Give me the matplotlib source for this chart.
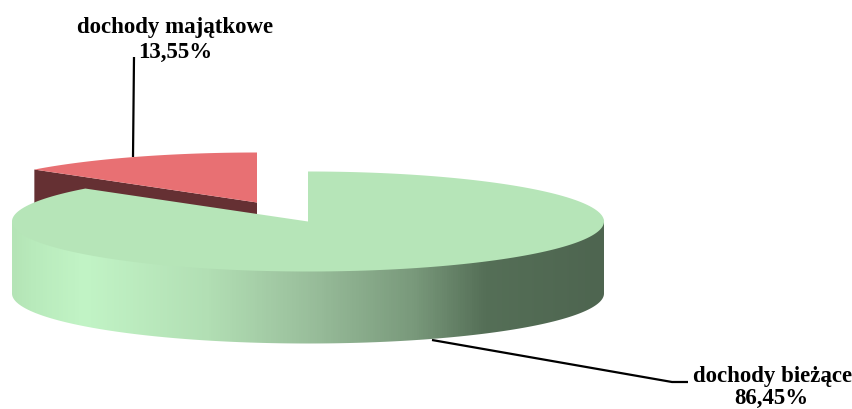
import numpy as np
import matplotlib
matplotlib.use('Agg')
import matplotlib.pyplot as plt
from matplotlib.colors import LinearSegmentedColormap
from matplotlib.patches import Polygon

# shares of the two slices
labels = ['dochody bieżące', 'dochody majątkowe']
values = [86.45, 13.55]
value_labels = ['86,45%', '13,55%']

W, H = 853, 410
CX, CY = 308, 222.5   # centre of the green slice top
RX, RY = 296, 50
DEPTH = 72
RED_SHIFT = (-51, -19)  # exploded slice offset


def arc(start, end, cx, cy, n=200):
    # angles clockwise from 12 o'clock, squashed into an ellipse
    t = np.deg2rad(np.linspace(start, end, n))
    return np.column_stack([cx + RX * np.sin(t), cy - RY * np.cos(t)])


fig = plt.figure(figsize=(W / 100, H / 100), dpi=100)
ax = fig.add_axes([0, 0, 1, 1])
ax.set_xlim(0, W)
ax.set_ylim(H, 0)
ax.axis('off')

split = 360 * values[0] / sum(values)

# red slice, pulled out
rx0, ry0 = CX + RED_SHIFT[0], CY + RED_SHIFT[1]
red_top = arc(split, 360, rx0, ry0)
edge = red_top[0]
wall = [edge, (rx0, ry0), (rx0, ry0 + DEPTH - 8), (edge[0], edge[1] + DEPTH - 8)]
ax.add_patch(Polygon(wall, closed=True, fc='#653033', ec='none', zorder=1))
ax.add_patch(Polygon(np.vstack([[(rx0, ry0)], red_top]), closed=True, fc='#E87073', ec='none', zorder=2))

# green outer wall with the shading running left to right
front_top = arc(90, 270, CX, CY - 3)
front_bottom = arc(90, 270, CX, CY + DEPTH)[::-1]
wall_poly = Polygon(np.vstack([front_top, front_bottom]), closed=True, fc='none', ec='none', zorder=3)
ax.add_patch(wall_poly)
stops = [(0.0, '#B4E4B6'), (0.03, '#B8EABB'), (0.12, '#C2F4C6'), (0.33, '#B2DFB4'),
         (0.50, '#9ABF9C'), (0.68, '#79997B'), (0.80, '#556F57'), (1.0, '#4E6550')]
cmap = LinearSegmentedColormap.from_list('wall', stops)
grad = np.linspace(0, 1, 592).reshape(1, -1)
im = ax.imshow(grad, extent=(CX - RX, CX + RX, 350, 215), cmap=cmap, aspect='auto', zorder=3)
im.set_clip_path(wall_poly)
ax.set_xlim(0, W)
ax.set_ylim(H, 0)

# green top
green_top = arc(0, split, CX, CY)
ax.add_patch(Polygon(np.vstack([[(CX, CY)], green_top]), closed=True, fc='#B6E5B8', ec='none', zorder=4))

# leader lines
ax.plot([133, 134], [158, 58], color='black', lw=1.6, zorder=5, solid_capstyle='butt')
ax.plot([432, 672, 688], [341, 383, 383], color='black', lw=1.6, zorder=5, solid_capstyle='butt')

# labels
font = dict(family='Liberation Serif', weight='bold', fontsize=16.5, ha='center', va='center', color='black')
ax.text(175.5, 27, labels[1], **font)
ax.text(175, 52, value_labels[1], **font)
ax.text(772.5, 377, labels[0], **font)
ax.text(771, 398, value_labels[0], **font)

fig.savefig('out.png', dpi=100, facecolor='white')
